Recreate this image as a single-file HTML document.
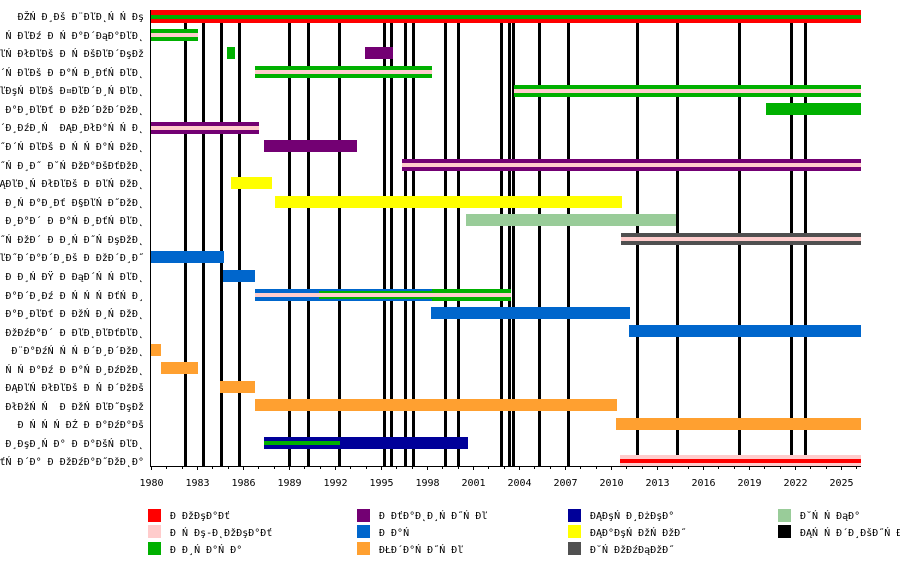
<!DOCTYPE html>
<html>
<head>
<meta charset="utf-8">
<style>
html,body{margin:0;padding:0;background:#fff;}
body{width:900px;height:566px;overflow:hidden;}
svg{display:block;}
text{font-family:"DejaVu Sans Mono","Liberation Mono",monospace;font-size:10px;fill:#000;}
</style>
</head>
<body>
<svg width="900" height="566" viewBox="0 0 900 566" xmlns="http://www.w3.org/2000/svg" shape-rendering="crispEdges">
<rect x="0" y="0" width="900" height="566" fill="#fff"/>

<!-- album lines -->
<g fill="#000">
<rect x="184" y="10" width="3" height="456"/>
<rect x="202" y="10" width="3" height="456"/>
<rect x="220" y="10" width="3" height="456"/>
<rect x="238" y="10" width="3" height="456"/>
<rect x="288" y="10" width="3" height="456"/>
<rect x="307" y="10" width="3" height="456"/>
<rect x="338" y="10" width="3" height="456"/>
<rect x="383" y="10" width="3" height="456"/>
<rect x="390" y="10" width="3" height="456"/>
<rect x="404" y="10" width="3" height="456"/>
<rect x="412" y="10" width="3" height="456"/>
<rect x="444" y="10" width="3" height="456"/>
<rect x="457" y="10" width="3" height="456"/>
<rect x="500" y="10" width="3" height="456"/>
<rect x="508" y="10" width="3" height="456"/>
<rect x="512" y="10" width="3" height="456"/>
<rect x="538" y="10" width="3" height="456"/>
<rect x="567" y="10" width="3" height="456"/>
<rect x="636" y="10" width="3" height="456"/>
<rect x="676" y="10" width="3" height="456"/>
<rect x="738" y="10" width="3" height="456"/>
<rect x="790" y="10" width="3" height="456"/>
<rect x="804" y="10" width="3" height="456"/>
</g>

<!-- bars -->
<!-- row 0 -->
<rect x="151" y="10" width="710" height="13" fill="#ff0000"/>
<rect x="151" y="15" width="710" height="4" fill="#00b000"/>
<!-- row 1 -->
<rect x="151" y="29" width="47" height="12" fill="#00b000"/>
<rect x="151" y="33" width="47" height="4" fill="#ffcccc"/>
<!-- row 2 -->
<rect x="227" y="47" width="8" height="12" fill="#00b000"/>
<rect x="365" y="47" width="28" height="12" fill="#730073"/>
<!-- row 3 -->
<rect x="255" y="66" width="177" height="12" fill="#00b000"/>
<rect x="255" y="70" width="177" height="4" fill="#ffcccc"/>
<!-- row 4 -->
<rect x="514" y="85" width="347" height="12" fill="#00b000"/>
<rect x="514" y="89" width="347" height="4" fill="#ffcccc"/>
<!-- row 5 -->
<rect x="766" y="103" width="95" height="12" fill="#00b000"/>
<!-- row 6 -->
<rect x="151" y="122" width="108" height="12" fill="#730073"/>
<rect x="151" y="126" width="108" height="4" fill="#ffcccc"/>
<!-- row 7 -->
<rect x="264" y="140" width="93" height="12" fill="#730073"/>
<!-- row 8 -->
<rect x="402" y="159" width="459" height="12" fill="#730073"/>
<rect x="402" y="163" width="459" height="4" fill="#ffcccc"/>
<!-- row 9 -->
<rect x="231" y="177" width="41" height="12" fill="#ffff00"/>
<!-- row 10 -->
<rect x="275" y="196" width="347" height="12" fill="#ffff00"/>
<!-- row 11 -->
<rect x="466" y="214" width="210" height="12" fill="#99cc99"/>
<!-- row 12 -->
<rect x="621" y="233" width="240" height="12" fill="#505050"/>
<rect x="621" y="237" width="240" height="4" fill="#ffcccc"/>
<!-- row 13 -->
<rect x="151" y="251" width="73" height="12" fill="#0066cc"/>
<!-- row 14 -->
<rect x="223" y="270" width="32" height="12" fill="#0066cc"/>
<!-- row 15 -->
<rect x="255" y="289" width="177" height="12" fill="#0066cc"/>
<rect x="432" y="289" width="79" height="12" fill="#00b000"/>
<rect x="319" y="291" width="113" height="8" fill="#00b000"/>
<rect x="255" y="293" width="256" height="4" fill="#ffcccc"/>
<!-- row 16 -->
<rect x="431" y="307" width="199" height="12" fill="#0066cc"/>
<!-- row 17 -->
<rect x="629" y="325" width="232" height="12" fill="#0066cc"/>
<!-- row 18 -->
<rect x="151" y="344" width="10" height="12" fill="#ffa030"/>
<!-- row 19 -->
<rect x="161" y="362" width="37" height="12" fill="#ffa030"/>
<!-- row 20 -->
<rect x="220" y="381" width="35" height="12" fill="#ffa030"/>
<!-- row 21 -->
<rect x="255" y="399" width="362" height="12" fill="#ffa030"/>
<!-- row 22 -->
<rect x="616" y="418" width="245" height="12" fill="#ffa030"/>
<!-- row 23 -->
<rect x="264" y="437" width="204" height="12" fill="#000099"/>
<rect x="264" y="441" width="76" height="4" fill="#00b000"/>
<!-- row 24 -->
<rect x="620" y="455" width="241" height="11" fill="#ffcccc"/>
<rect x="620" y="459" width="241" height="4" fill="#ff0000"/>

<!-- axes -->
<rect x="150" y="10" width="1" height="457" fill="#000"/>
<rect x="150" y="466" width="711" height="1" fill="#000"/>

<!-- ticks -->
<g fill="#000">
<rect x="151" y="466" width="1" height="4"/>
<rect x="166" y="466" width="1" height="3"/>
<rect x="182" y="466" width="1" height="3"/>
<rect x="197" y="466" width="1" height="4"/>
<rect x="212" y="466" width="1" height="3"/>
<rect x="228" y="466" width="1" height="3"/>
<rect x="243" y="466" width="1" height="4"/>
<rect x="258" y="466" width="1" height="3"/>
<rect x="274" y="466" width="1" height="3"/>
<rect x="289" y="466" width="1" height="4"/>
<rect x="304" y="466" width="1" height="3"/>
<rect x="320" y="466" width="1" height="3"/>
<rect x="335" y="466" width="1" height="4"/>
<rect x="350" y="466" width="1" height="3"/>
<rect x="366" y="466" width="1" height="3"/>
<rect x="381" y="466" width="1" height="4"/>
<rect x="396" y="466" width="1" height="3"/>
<rect x="412" y="466" width="1" height="3"/>
<rect x="427" y="466" width="1" height="4"/>
<rect x="442" y="466" width="1" height="3"/>
<rect x="458" y="466" width="1" height="3"/>
<rect x="473" y="466" width="1" height="4"/>
<rect x="488" y="466" width="1" height="3"/>
<rect x="504" y="466" width="1" height="3"/>
<rect x="519" y="466" width="1" height="4"/>
<rect x="534" y="466" width="1" height="3"/>
<rect x="550" y="466" width="1" height="3"/>
<rect x="565" y="466" width="1" height="4"/>
<rect x="580" y="466" width="1" height="3"/>
<rect x="596" y="466" width="1" height="3"/>
<rect x="611" y="466" width="1" height="4"/>
<rect x="626" y="466" width="1" height="3"/>
<rect x="642" y="466" width="1" height="3"/>
<rect x="657" y="466" width="1" height="4"/>
<rect x="672" y="466" width="1" height="3"/>
<rect x="688" y="466" width="1" height="3"/>
<rect x="703" y="466" width="1" height="4"/>
<rect x="718" y="466" width="1" height="3"/>
<rect x="734" y="466" width="1" height="3"/>
<rect x="749" y="466" width="1" height="4"/>
<rect x="764" y="466" width="1" height="3"/>
<rect x="780" y="466" width="1" height="3"/>
<rect x="795" y="466" width="1" height="4"/>
<rect x="810" y="466" width="1" height="3"/>
<rect x="826" y="466" width="1" height="3"/>
<rect x="841" y="466" width="1" height="4"/>
<rect x="856" y="466" width="1" height="3"/>
</g>

<!-- tick labels -->
<g text-anchor="middle">
<text x="151.5" y="486">1980</text>
<text x="197.5" y="486">1983</text>
<text x="243.5" y="486">1986</text>
<text x="289.5" y="486">1989</text>
<text x="335.5" y="486">1992</text>
<text x="381.5" y="486">1995</text>
<text x="427.5" y="486">1998</text>
<text x="473.5" y="486">2001</text>
<text x="519.5" y="486">2004</text>
<text x="565.5" y="486">2007</text>
<text x="611.5" y="486">2010</text>
<text x="657.5" y="486">2013</text>
<text x="703.5" y="486">2016</text>
<text x="749.5" y="486">2019</text>
<text x="795.5" y="486">2022</text>
<text x="841.5" y="486">2025</text>
</g>

<!-- row labels -->
<g text-anchor="end">
<text x="144" y="20" xml:space="preserve">ĐŽŃ Đ¸Đš Đ¨ĐľĐ˛Ń Ń Đş</text>
<text x="144" y="39" xml:space="preserve">Ń ĐľĐź Đ Ń Đ°Đ´ĐąĐ°ĐľĐ˛</text>
<text x="144" y="57" xml:space="preserve">ľŃ ĐłĐľĐš Đ Ń ĐšĐľĐ´ĐşĐž</text>
<text x="144" y="76" xml:space="preserve">´Ń ĐľĐš Đ Đ°Ń Đ¸ĐťŃ ĐľĐ˛</text>
<text x="144" y="94" xml:space="preserve">ľĐşŃ ĐľĐš Đ¤ĐľĐ´Đ¸Ń ĐľĐ˛</text>
<text x="144" y="113" xml:space="preserve">Đ°Đ¸ĐľĐť Đ ĐžĐ´ĐžĐ´ĐžĐ˛</text>
<text x="144" y="131" xml:space="preserve">´Đ¸ĐźĐ¸Ń  ĐĄĐ¸ĐłĐ°Ń Ń Đ˛</text>
<text x="144" y="150" xml:space="preserve">˝Đ´Ń ĐľĐš Đ Ń Ń Đ°Ń ĐžĐ˛</text>
<text x="144" y="169" xml:space="preserve">˝Ń Đ¸Đ˝ Đ˘Ń ĐžĐ°ĐšĐťĐžĐ˛</text>
<text x="144" y="187" xml:space="preserve">ĐĄĐľĐ˛Ń ĐłĐľĐš Đ ĐľŃ ĐžĐ˛</text>
<text x="144" y="206" xml:space="preserve">Đ¸Ń Đ°Đ¸Đť Đ§ĐľŃ Đ˝ĐžĐ˛</text>
<text x="144" y="224" xml:space="preserve">Đ¸Đ°Đ´ Đ Đ°Ń Đ¸ĐťŃ ĐľĐ˛</text>
<text x="144" y="243" xml:space="preserve">˝Ń ĐžĐ´ Đ Đ¸Ń Đ˝Ń ĐşĐžĐ˛</text>
<text x="144" y="261" xml:space="preserve">ľĐ˝Đ´Đ°Đ´Đ¸Đš Đ ĐžĐ´Đ¸Đ˝</text>
<text x="144" y="280" xml:space="preserve">Đ Đ¸Ń ĐŸ Đ ĐąĐ´Ń Ń ĐľĐ˛</text>
<text x="144" y="299" xml:space="preserve">Đ°Đ´Đ¸Đź Đ Ń Ń Ń ĐťŃ Đ¸</text>
<text x="144" y="317" xml:space="preserve">Đ°Đ¸ĐľĐť Đ ĐžŃ Đ¸Ń ĐžĐ˛</text>
<text x="144" y="336" xml:space="preserve">ĐžĐźĐ°Đ´ Đ ĐľĐ˛ĐľĐťĐľĐ˛</text>
<text x="144" y="354" xml:space="preserve">Đ¨Đ°ĐźŃ Ń Ń Đ´Đ¸Đ´ĐžĐ˛</text>
<text x="144" y="373" xml:space="preserve">Ń Ń Đ°Đź Đ Đ°Ń Đ¸ĐźĐžĐ˛</text>
<text x="144" y="391" xml:space="preserve">ĐĄĐľŃ ĐłĐľĐš Đ Ń Đ´ĐžĐš</text>
<text x="144" y="410" xml:space="preserve">ĐłĐžŃ Ń  Đ ĐžŃ ĐľĐ˝ĐşĐž</text>
<text x="144" y="428" xml:space="preserve">Đ Ń Ń Ń ĐŹ Đ Đ°ĐźĐ°Đš</text>
<text x="144" y="447" xml:space="preserve">Đ¸ĐşĐ¸Ń Đ° Đ Đ°ĐšŃ ĐľĐ˛</text>
<text x="144" y="465" xml:space="preserve">ťŃ Đ´Đ° Đ ĐžĐźĐ°Đ˝ĐžĐ˛Đ°</text>
</g>

<!-- legend -->
<rect x="148" y="509" width="13" height="13" fill="#ff0000"/>
<rect x="148" y="525" width="13" height="13" fill="#ffcccc"/>
<rect x="148" y="542" width="13" height="13" fill="#00b000"/>
<rect x="357" y="509" width="13" height="13" fill="#730073"/>
<rect x="357" y="525" width="13" height="13" fill="#0066cc"/>
<rect x="357" y="542" width="13" height="13" fill="#ffa030"/>
<rect x="568" y="509" width="13" height="13" fill="#000099"/>
<rect x="568" y="525" width="13" height="13" fill="#ffff00"/>
<rect x="568" y="542" width="13" height="13" fill="#505050"/>
<rect x="778" y="509" width="13" height="13" fill="#99cc99"/>
<rect x="778" y="525" width="13" height="13" fill="#000000"/>

<text x="170" y="519" xml:space="preserve">Đ ĐžĐşĐ°Đť</text>
<text x="170" y="536" xml:space="preserve">Đ Ń Đş-Đ˛ĐžĐşĐ°Đť</text>
<text x="170" y="553" xml:space="preserve">Đ Đ¸Ń Đ°Ń Đ°</text>
<text x="379" y="519" xml:space="preserve">Đ ĐťĐ°Đ˛Đ¸Ń Đ˝Ń Đľ</text>
<text x="379" y="536" xml:space="preserve">Đ Đ°Ń </text>
<text x="379" y="553" xml:space="preserve">ĐŁĐ´Đ°Ń Đ˝Ń Đľ</text>
<text x="590" y="519" xml:space="preserve">ĐĄĐşŃ Đ¸ĐżĐşĐ°</text>
<text x="590" y="536" xml:space="preserve">ĐĄĐ°ĐşŃ ĐžŃ ĐžĐ˝</text>
<text x="590" y="553" xml:space="preserve">Đ˘Ń ĐžĐźĐąĐžĐ˝</text>
<text x="800" y="519" xml:space="preserve">Đ˘Ń Ń ĐąĐ°</text>
<text x="800" y="536" xml:space="preserve">ĐĄŃ Ń Đ´Đ¸ĐšĐ˝Ń Đľ Đ°ĐťŃ ĐąĐžĐźŃ </text>
</svg>
</body>
</html>
